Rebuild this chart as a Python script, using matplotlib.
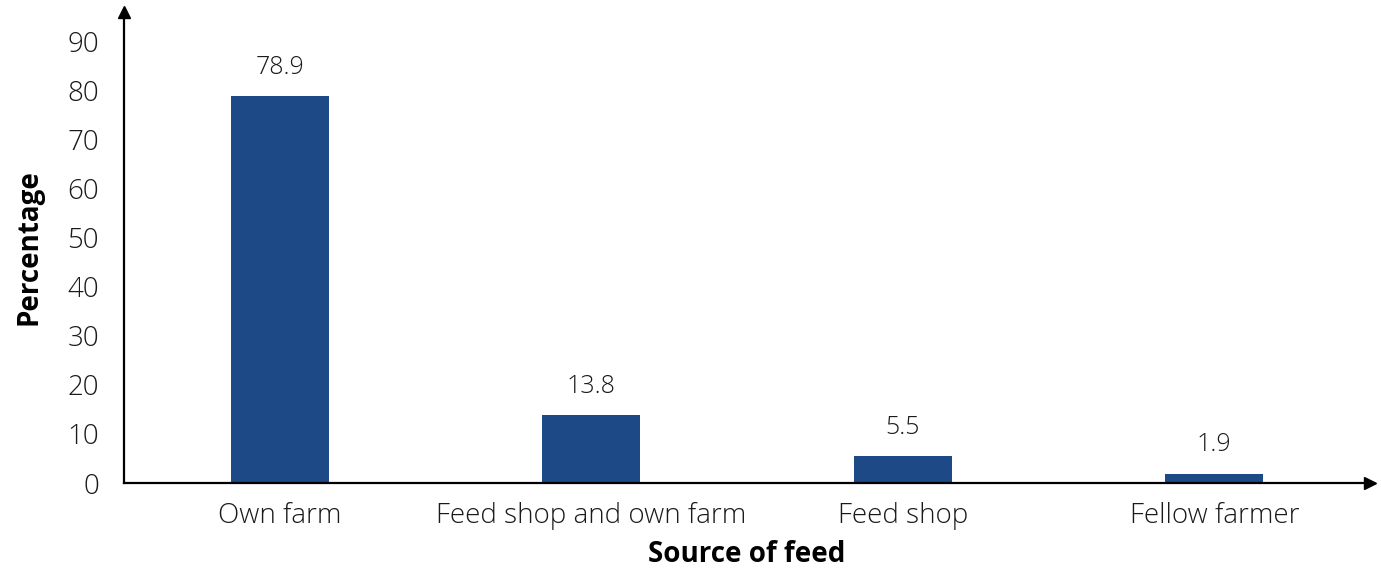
import matplotlib.pyplot as plt

sources = ["Own farm", "Feed shop and own farm", "Feed shop", "Fellow farmer"]
percent = [78.9, 13.8, 5.5, 1.9]
yticks = [0, 10, 20, 30, 40, 50, 60, 70, 80, 90]

plt.rcParams['font.family'] = ['Open Sans', 'DejaVu Sans']

fig = plt.figure(figsize=(13.81, 5.71), dpi=100)
ax = fig.add_axes([124/1381, 88/571, (1370-124)/1381, (483-12)/571])

x = range(len(sources))
ax.bar(x, percent, width=0.315, color='#1d4a86')

for i, v in enumerate(percent):
    ax.text(i, v + 3.3, f"{v}", ha='center', va='bottom', fontsize=18,
            color='#1a1a1a', fontweight='light')

ax.set_xlim(-0.5, 3.5)
ax.set_ylim(0, 96)
ax.set_yticks(yticks)
ax.set_xticks(list(x))
ax.set_xticklabels(sources)
ax.tick_params(length=0, labelsize=20, colors='#1a1a1a')
ax.tick_params(axis='y', pad=18)
ax.tick_params(axis='x', pad=14)
for lab in ax.get_xticklabels() + ax.get_yticklabels():
    lab.set_fontweight('light')

for s in ['top', 'right']:
    ax.spines[s].set_visible(False)
for s in ['left', 'bottom']:
    ax.spines[s].set_linewidth(1.6)

# arrow heads at the axis ends
ax.plot(1, 0, ">k", markersize=9, transform=ax.get_yaxis_transform(), clip_on=False)
ax.plot(-0.5, 1, "^k", markersize=9, transform=ax.get_xaxis_transform(), clip_on=False)

ax.set_xlabel("Source of feed", fontsize=20, fontweight='bold', labelpad=7)
ax.set_ylabel("Percentage", fontsize=20, fontweight='bold', labelpad=17)

fig.savefig("out.png", dpi=100)
